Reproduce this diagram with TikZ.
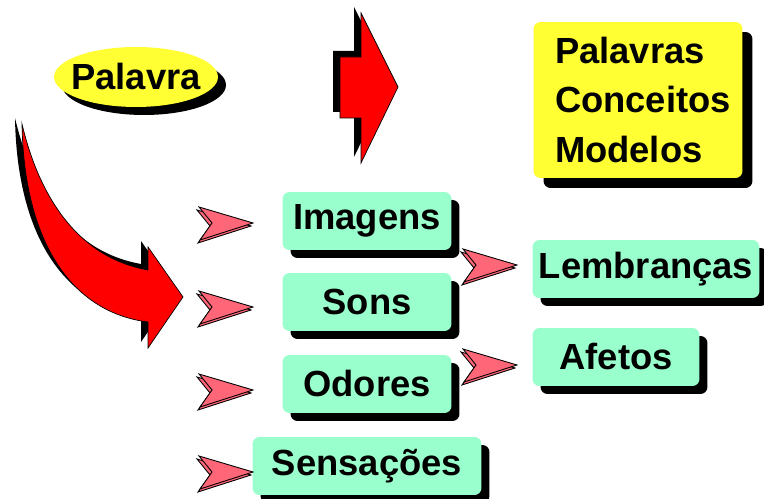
\documentclass[tikz,border=0pt]{standalone}
\usepackage{fontspec}
\setmainfont{Liberation Sans}
\usetikzlibrary{shapes.geometric,shadows}

\definecolor{ouro}{RGB}{255,255,51}
\definecolor{menta}{RGB}{153,255,204}
\definecolor{rosa}{RGB}{255,102,119}

\tikzset{
  sombra/.style={drop shadow={shadow xshift=#1, shadow yshift=-#1, fill=black, opacity=1}},
  caixa/.style={fill=menta, rounded corners=4pt, inner sep=0pt, minimum height=1.16cm, sombra=0.16cm},
  seta/.style={fill=red, draw=black, line width=0.4pt},
  pinkarrow/.pic={
    \filldraw[fill=rosa, draw=black, line width=0.5pt, shift={(-2,3)}] (0,0) -- (-54,-16) -- (-41,0) -- (-53,17) -- cycle;
    \filldraw[fill=rosa, draw=black, line width=0.5pt] (0,0) -- (-54,-16) -- (-41,0) -- (-53,17) -- cycle;
  }
}

\begin{document}
\begin{tikzpicture}[x=0.02cm, y=-0.02cm, font=\fontsize{20.7}{28.4}\selectfont\bfseries]
  \useasboundingbox (0,0) rectangle (764,499);

  % --- PALAVRA ---
  \node[ellipse, fill=ouro, minimum width=3.28cm, minimum height=1.2cm, inner sep=0pt, sombra=0.16cm] (palavra) at (136,77) {\makebox[2cm][c]{Palavra}};

  % Top arrow (shadow up-left)
  \fill[black, shift={(-7,-6)}] (340,57) -- (361,57) -- (361,13) -- (398,87) -- (361,163) -- (361,118) -- (340,118) -- cycle;
  \filldraw[seta] (340,57) -- (361,57) -- (361,13) -- (398,87) -- (361,163) -- (361,118) -- (340,118) -- cycle;

  % Curved arrow
  \fill[black, shift={(-7,-6)}] (22,124) .. controls (24,240) and (70,312) .. (148,322) -- (148,348) -- (183,297) -- (148,247) -- (148,270) .. controls (80,258) and (40,200) .. (22,124) -- cycle;
  \filldraw[seta] (22,124) .. controls (24,240) and (70,312) .. (148,322) -- (148,348) -- (183,297) -- (148,247) -- (148,270) .. controls (80,258) and (40,200) .. (22,124) -- cycle;

  % --- RESULT ---
  \node[fill=ouro, rounded corners=4pt, inner sep=0pt, minimum width=4.18cm, minimum height=3.12cm, text width=3.32cm, align=left, sombra=0.2cm] (modelos) at (638,100) {Palavras\\Conceitos\\Modelos};

  % --- SENSES ---
  \node[caixa, minimum width=3.38cm] (imagens) at (367,221) {Imagens};
  \node[caixa, minimum width=3.38cm] (sons) at (367,302) {Sons};
  \node[caixa, minimum width=3.38cm] (odores) at (367,384) {Odores};
  \node[caixa, minimum width=4.58cm] (sensacoes) at (367,466) {Sensações};
  \node[caixa, minimum width=4.54cm] (lembrancas) at (646,269) {Lembranças};
  \node[caixa, minimum width=3.34cm] (afetos) at (616,357) {Afetos};

  % Small arrows
  \foreach \y in {223,307,390,472}
    \pic at (253,\y) {pinkarrow};
  \pic at (517,265) {pinkarrow};
  \pic at (517,365) {pinkarrow};
\end{tikzpicture}
\end{document}
